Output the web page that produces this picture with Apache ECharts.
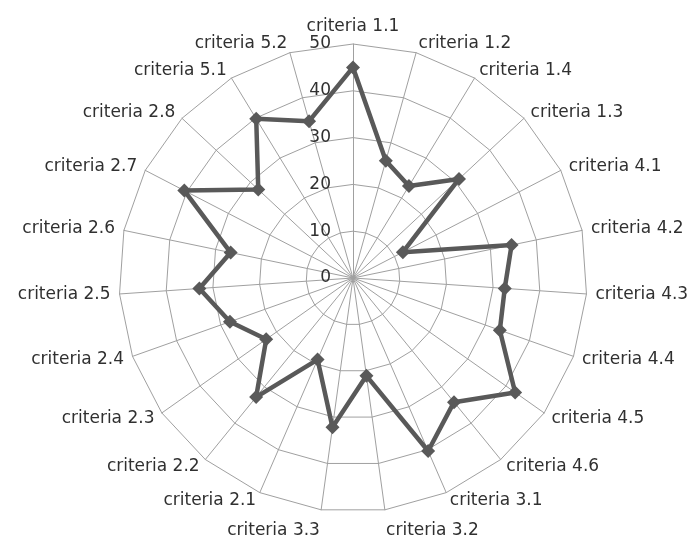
<!DOCTYPE html>
<html><head><meta charset="utf-8">
<script src="https://cdn.jsdelivr.net/npm/echarts@6/dist/echarts.min.js"></script>
<style>html,body{margin:0;padding:0;background:#fff}#c{width:698px;height:541px}</style>
</head><body><div id="c"></div>
<script>
// Categories listed clockwise starting from the top spoke
const categories = ['criteria 1.1','criteria 1.2','criteria 1.4','criteria 1.3','criteria 4.1','criteria 4.2','criteria 4.3','criteria 4.4','criteria 4.5','criteria 4.6','criteria 3.1','criteria 3.2','criteria 3.3','criteria 2.1','criteria 2.2','criteria 2.3','criteria 2.4','criteria 2.5','criteria 2.6','criteria 2.7','criteria 2.8','criteria 5.1','criteria 5.2'];
const values = [45,26,23,31,12,34.6,32.5,33.3,42.4,34.2,40.3,21.1,32.2,19,32.8,22.7,27.9,32.9,26.7,40.6,27.7,39.8,34.8];
const axisMax = 50;
const axisSplits = 5;
// labels that sit just below the chart's bottom edge
const lowNames = ['criteria 3.2', 'criteria 3.3'];

// ECharts places radar indicators counter-clockwise; reverse to get clockwise order
const order = [0].concat(categories.map((_, i) => i).slice(1).reverse());
const textColor = '#303030';
const font = 'DejaVu Sans';
const indicator = order.map((i, k) => {
  const ind = { name: categories[i], max: axisMax, min: 0 };
  if (k === 0) ind.axisLabel = { show: true };
  return ind;
});
const data = order.map(i => values[i]);

const chart = echarts.init(document.getElementById('c'), null, { renderer: 'canvas' });
chart.setOption({
  animation: false,
  backgroundColor: '#fff',
  radar: {
    center: [353, 278],
    radius: 234,
    startAngle: 90,
    shape: 'polygon',
    splitNumber: axisSplits,
    indicator: indicator,
    axisName: {
      color: textColor, fontFamily: font, fontSize: 17,
      formatter: function (name) {
        return lowNames.indexOf(name) >= 0 ? '{low|' + name + '}' : name;
      },
      rich: {
        low: { color: textColor, fontFamily: font, fontSize: 17, padding: [24, 0, 0, 0] }
      }
    },
    nameGap: 9,
    axisLine: { show: true, lineStyle: { color: '#a0a0a0', width: 1 } },
    splitLine: { show: true, lineStyle: { color: '#a0a0a0', width: 1 } },
    splitArea: { show: false },
    axisTick: { show: false },
    axisLabel: { show: false, color: textColor, fontFamily: font, fontSize: 17, margin: 22, padding: [4, 0, 0, 0] }
  },
  series: [{
    type: 'radar',
    symbol: 'diamond',
    symbolSize: 14,
    lineStyle: { color: '#595959', width: 4.5 },
    itemStyle: { color: '#595959' },
    data: [{ value: data }]
  }]
});
</script>
</body></html>
